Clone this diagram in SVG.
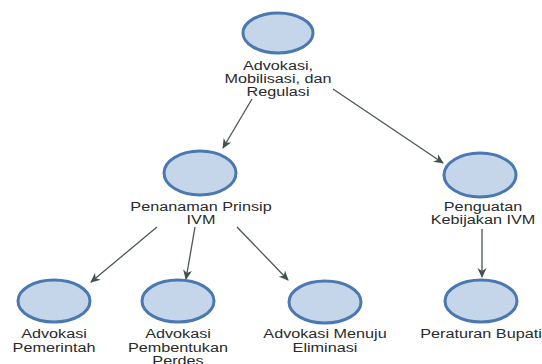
<svg xmlns="http://www.w3.org/2000/svg" width="542" height="364" viewBox="0 0 542 364">
<defs>
<marker id="arr" markerWidth="10" markerHeight="10" viewBox="0 0 10 10" refX="9" refY="5" orient="auto" markerUnits="userSpaceOnUse">
<path d="M0,0.5 L10,5 L0,9.5 L3,5 Z" fill="#43524f"/>
</marker>
</defs>
<style>
.node ellipse{fill:#c5d5ea;stroke:#4a78b0;stroke-width:3}
.node text{font-family:"Liberation Sans",Arial,sans-serif;font-size:13.5px;fill:#2a2a2a;text-anchor:middle}
.conn line{stroke:#4a5755;stroke-width:1.3;marker-end:url(#arr)}
</style>
<rect width="542" height="364" fill="#fff"/>
<g class="conn" id="connectors">
<line x1="252" y1="99" x2="223" y2="148"/>
<line x1="333" y1="89" x2="443" y2="163"/>
<line x1="157" y1="227" x2="91" y2="282"/>
<line x1="195" y1="227" x2="186" y2="279"/>
<line x1="237" y1="227" x2="288" y2="280"/>
<line x1="482" y1="229" x2="482" y2="277"/>
</g>
<g class="node" id="n-advokasi">
<ellipse cx="278" cy="33" rx="35" ry="20"/>
<g transform="translate(278 0) scale(1.2 1)">
<text x="0" y="70">Advokasi,</text>
<text x="0" y="83">Mobilisasi, dan</text>
<text x="0" y="96">Regulasi</text>
</g>
</g>
<g class="node" id="n-penanaman">
<ellipse cx="200" cy="173" rx="36" ry="22"/>
<g transform="translate(201 0) scale(1.2 1)">
<text x="0" y="211">Penanaman Prinsip</text>
<text x="0" y="224">IVM</text>
</g>
</g>
<g class="node" id="n-penguatan">
<ellipse cx="480" cy="175" rx="36" ry="22"/>
<g transform="translate(483 0) scale(1.2 1)">
<text x="0" y="211">Penguatan</text>
<text x="0" y="224">Kebijakan IVM</text>
</g>
</g>
<g class="node" id="n-pemerintah">
<ellipse cx="54" cy="301" rx="36" ry="21"/>
<g transform="translate(54 0) scale(1.2 1)">
<text x="0" y="338">Advokasi</text>
<text x="0" y="352">Pemerintah</text>
</g>
</g>
<g class="node" id="n-perdes">
<ellipse cx="178" cy="301" rx="36" ry="21"/>
<g transform="translate(178 0) scale(1.2 1)">
<text x="0" y="338">Advokasi</text>
<text x="0" y="352">Pembentukan</text>
<text x="0" y="365">Perdes</text>
</g>
</g>
<g class="node" id="n-eliminasi">
<ellipse cx="325" cy="302" rx="36" ry="21"/>
<g transform="translate(325 0) scale(1.2 1)">
<text x="0" y="338">Advokasi Menuju</text>
<text x="0" y="352">Eliminasi</text>
</g>
</g>
<g class="node" id="n-perbup">
<ellipse cx="481" cy="301" rx="36" ry="21"/>
<g transform="translate(481 0) scale(1.2 1)">
<text x="0" y="338">Peraturan Bupati</text>
</g>
</g>
</svg>
